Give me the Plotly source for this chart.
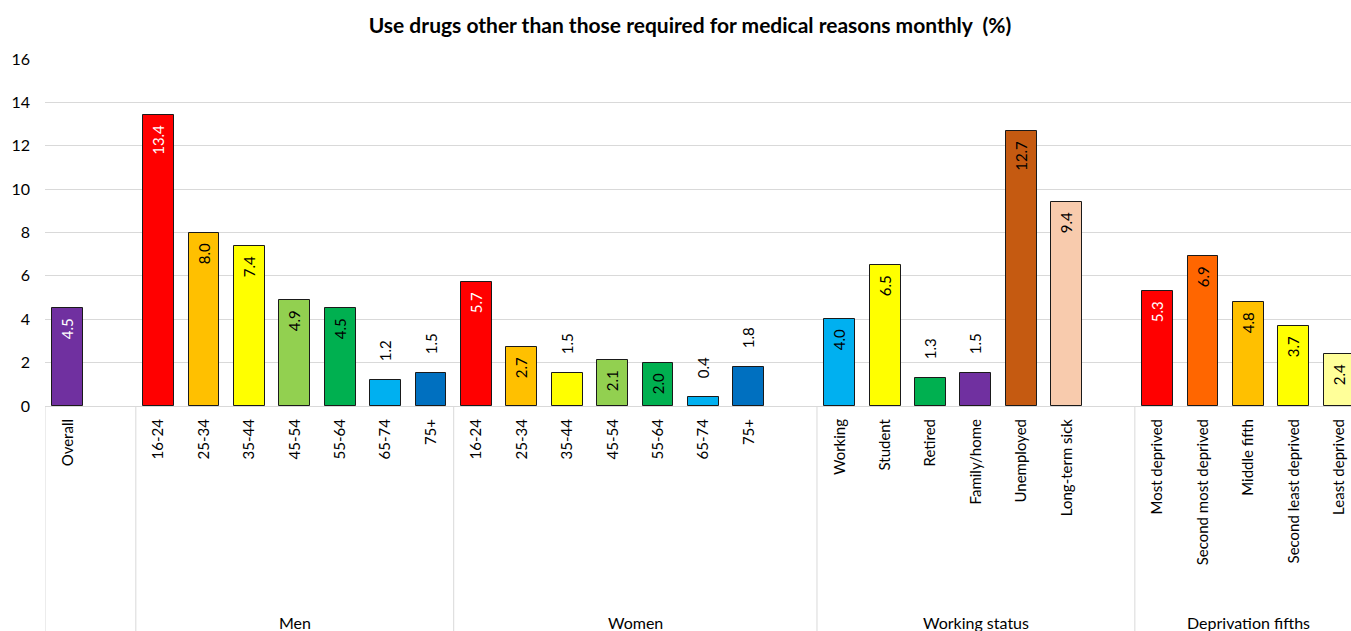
import plotly.graph_objects as go

# ---------------- data ----------------
overall_labels = ["Overall"]
overall_values = [4.5]

men_labels = ["16-24", "25-34", "35-44", "45-54", "55-64", "65-74", "75+"]
men_values = [13.4, 8.0, 7.4, 4.9, 4.5, 1.2, 1.5]

women_labels = ["16-24", "25-34", "35-44", "45-54", "55-64", "65-74", "75+"]
women_values = [5.7, 2.7, 1.5, 2.1, 2.0, 0.4, 1.8]

work_labels = ["Working", "Student", "Retired", "Family/home", "Unemployed", "Long-term sick"]
work_values = [4.0, 6.5, 1.3, 1.5, 12.7, 9.4]

dep_labels = ["Most deprived", "Second most deprived", "Middle fifth",
              "Second least deprived", "Least deprived"]
dep_values = [5.3, 6.9, 4.8, 3.7, 2.4]

group_names = ["Men", "Women", "Working status", "Deprivation fifths"]

# ---------------- styles ----------------
age_colors = ["#FF0000", "#FFC000", "#FFFF00", "#92D050", "#00B050", "#00B0F0", "#0070C0"]
overall_colors = ["#7030A0"]
work_colors = ["#00B0F0", "#FFFF00", "#00B050", "#7030A0", "#C55A11", "#F8CBAD"]
dep_colors = ["#FF0000", "#FF6600", "#FFC000", "#FFFF00", "#FFFF99"]
white_fills = {"#FF0000", "#7030A0"}

# slot layout: one gap slot after Overall, after Women, after Working status
blocks = [
    (overall_labels, overall_values, overall_colors, 1),
    (men_labels, men_values, age_colors, 0),
    (women_labels, women_values, age_colors, 1),
    (work_labels, work_values, work_colors, 1),
    (dep_labels, dep_values, dep_colors, 0),
]

xs, ys, labels, colors = [], [], [], []
group_edges = [-0.5]
pos = 0
for lab, val, col, gap in blocks:
    for l, v, c in zip(lab, val, col):
        xs.append(pos)
        ys.append(v)
        labels.append(l)
        colors.append(c)
        pos += 1
    pos += gap
    group_edges.append(pos - 0.5)

NB = "\u00a0"
texts, tpos, tcol = [], [], []
for v, c in zip(ys, colors):
    if v >= 2.0:
        texts.append(f"{v:.1f}" + NB * 2)
        tpos.append("inside")
        tcol.append("white" if c in white_fills else "black")
    else:
        texts.append(NB * 4 + f"{v:.1f}")
        tpos.append("outside")
        tcol.append("black")

FONT = "Lato, 'Open Sans', sans-serif"

fig = go.Figure()
fig.add_trace(go.Bar(
    x=xs, y=ys,
    width=0.68,
    marker=dict(color=colors, line=dict(color="#1a1a1a", width=1)),
    text=texts,
    textposition=tpos,
    textangle=-90,
    insidetextanchor="end",
    textfont=dict(color=tcol, size=15, family=FONT),
    outsidetextfont=dict(color=tcol, size=15, family=FONT),
    insidetextfont=dict(color=tcol, size=15, family=FONT),
    cliponaxis=False,
    hoverinfo="x+y",
    showlegend=False,
))

W, H = 1351, 631
ML, MR, MT, MB = 45, 0, 59, 225
plot_h = H - MT - MB

shapes = []
for e in group_edges[:-1]:
    shapes.append(dict(type="line", xref="x", yref="paper", x0=e, x1=e,
                       y0=0, y1=-MB / plot_h, line=dict(color="#d9d9d9", width=1)))

annotations = []
edges_groups = group_edges[1:]  # right edges of each block
for i, name in enumerate(group_names):
    left = edges_groups[i]
    right = edges_groups[i + 1]
    annotations.append(dict(text=name, xref="x", yref="paper",
                            x=(left + right) / 2, y=-(622 - 406) / plot_h,
                            showarrow=False, yanchor="middle", xanchor="center",
                            font=dict(size=16, family=FONT, color="black")))

fig.update_layout(
    width=W, height=H,
    margin=dict(l=ML, r=MR, t=MT, b=MB, autoexpand=False),
    paper_bgcolor="white", plot_bgcolor="white",
    uniformtext=dict(minsize=15, mode="show"),
    title=dict(text="<b>Use drugs other than those required for medical reasons monthly  (%)</b>",
               x=690 / W, xanchor="center", y=1 - 26 / H, yanchor="middle", xref="container",
               font=dict(size=21, family=FONT, color="black")),
    xaxis=dict(range=[-0.5, 28.26], tickmode="array", tickvals=xs, ticktext=labels,
               tickangle=-90, showgrid=False, zeroline=False, showline=True,
               linecolor="#d9d9d9", linewidth=1, ticks="", ticklabelstandoff=6,
               tickfont=dict(size=15, family=FONT, color="black"), automargin=False),
    yaxis=dict(range=[0, 16], dtick=2, showgrid=True, gridcolor="#d9d9d9",
               zeroline=False, showline=False, ticks="", ticklabelstandoff=14,
               tickfont=dict(size=16, family=FONT, color="black"), automargin=False),
    shapes=shapes,
    annotations=annotations,
    bargap=0,
)

fig.write_html("out.html")
